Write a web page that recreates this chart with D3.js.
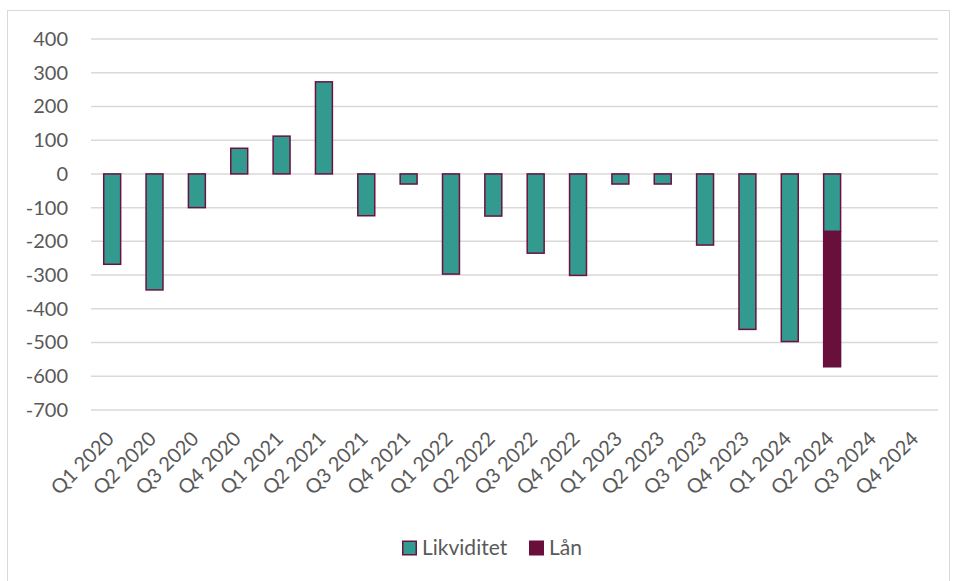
<!DOCTYPE html>
<html>
<head>
<meta charset="utf-8">
<script src="https://cdn.jsdelivr.net/npm/d3@7"></script>
<style>
  body { margin: 0; background: #fff; }
  svg { display: block; font-family: Lato, "Open Sans", sans-serif; }
</style>
</head>
<body>
<svg id="chart" width="958" height="581"></svg>
<script>
// quarters on the x axis
const quarters = ['Q1 2020', 'Q2 2020', 'Q3 2020', 'Q4 2020', 'Q1 2021', 'Q2 2021', 'Q3 2021', 'Q4 2021',
    'Q1 2022', 'Q2 2022', 'Q3 2022', 'Q4 2022', 'Q1 2023', 'Q2 2023', 'Q3 2023', 'Q4 2023',
    'Q1 2024', 'Q2 2024', 'Q3 2024', 'Q4 2024']
// series values (null = no data)
const likviditet = [-268, -344, -100, 76, 112, 273, -124, -30, -297, -125, -235, -301, -30, -30, -211, -461, -497, -170, null, null]
const laan = [null, null, null, null, null, null, null, null, null, null, null, null, null, null, null, null, null, -404, null, null]
const yTicks = [400, 300, 200, 100, 0, -100, -200, -300, -400, -500, -600, -700]
const seriesNames = ['Likviditet', 'Lån']

const colors = { Likviditet: '#339a8f', 'Lån': '#690f3b' }
const strokeColor = '#6b1240'
const textColor = '#595959'

const svg = d3.select('#chart')
const margin = { left: 91, top: 39 }
const width = 938 - margin.left
const height = 410 - margin.top

// outer chart frame
svg.append('rect')
    .attr('x', 7.5).attr('y', 10.5)
    .attr('width', 942).attr('height', 580)
    .attr('fill', 'none')
    .attr('stroke', '#d9d9d9')
    .attr('stroke-width', 1)

const g = svg.append('g').attr('transform', `translate(${margin.left},${margin.top})`)

const x = d3.scaleBand()
    .domain(quarters)
    .range([0, width])
    .paddingInner(0.6)
    .paddingOuter(0.3)

const y = d3.scaleLinear()
    .domain([-700, 400])
    .range([height, 0])

const cx = q => x(q) + x.bandwidth() / 2

// gridlines
g.append('g')
    .selectAll('line')
    .data(yTicks)
    .enter()
    .append('line')
    .attr('x1', 0).attr('x2', width)
    .attr('y1', d => y(d)).attr('y2', d => y(d))
    .attr('stroke', '#d9d9d9')
    .attr('stroke-width', 1.5)

// y axis labels (plain hyphen for negatives, like Excel)
const yAxis = d3.axisLeft(y).tickValues(yTicks).tickSize(0).tickPadding(23).tickFormat(d => String(d))
g.append('g')
    .call(yAxis)
    .call(a => a.select('.domain').remove())
    .selectAll('text')
    .attr('fill', textColor)
    .attr('font-size', 20)
    .attr('font-family', 'Lato, "Open Sans", sans-serif')

// x labels, rotated -45
g.append('g')
    .selectAll('text')
    .data(quarters)
    .enter()
    .append('text')
    .attr('transform', d => `translate(${cx(d) + 3},${height + 30}) rotate(-45)`)
    .attr('text-anchor', 'end')
    .attr('fill', textColor)
    .attr('font-size', 20)
    .text(d => d)

// bars, stacked
const rows = quarters.map((q, i) => ({ q, lik: likviditet[i], lan: laan[i] }))

g.append('g')
    .selectAll('rect')
    .data(rows.filter(d => d.lik !== null))
    .enter()
    .append('rect')
    .attr('x', d => x(d.q))
    .attr('y', d => y(Math.max(0, d.lik)))
    .attr('width', x.bandwidth())
    .attr('height', d => Math.abs(y(d.lik) - y(0)))
    .attr('fill', colors.Likviditet)
    .attr('stroke', strokeColor)
    .attr('stroke-width', 1.5)

g.append('g')
    .selectAll('rect')
    .data(rows.filter(d => d.lan !== null))
    .enter()
    .append('rect')
    .attr('x', d => x(d.q) - 0.75)
    .attr('y', d => y(d.lik || 0))
    .attr('width', x.bandwidth() + 1.5)
    .attr('height', d => y((d.lik || 0) + d.lan) - y(d.lik || 0))
    .attr('fill', colors['Lån'])

// legend
const legend = svg.append('g').attr('transform', 'translate(402,548)')
const items = [{ name: seriesNames[0], x: 0 }, { name: seriesNames[1], x: 127 }]
items.forEach(it => {
    legend.append('rect')
        .attr('x', it.x + 0.75).attr('y', -6.75)
        .attr('width', 13.5).attr('height', 13.5)
        .attr('fill', colors[it.name])
        .attr('stroke', it.name === 'Likviditet' ? strokeColor : colors[it.name])
        .attr('stroke-width', 1.5)
    legend.append('text')
        .attr('x', it.x + 20).attr('y', 0)
        .attr('dy', '0.35em')
        .attr('fill', textColor)
        .attr('font-size', 21)
        .text(it.name)
})
</script>
</body>
</html>
